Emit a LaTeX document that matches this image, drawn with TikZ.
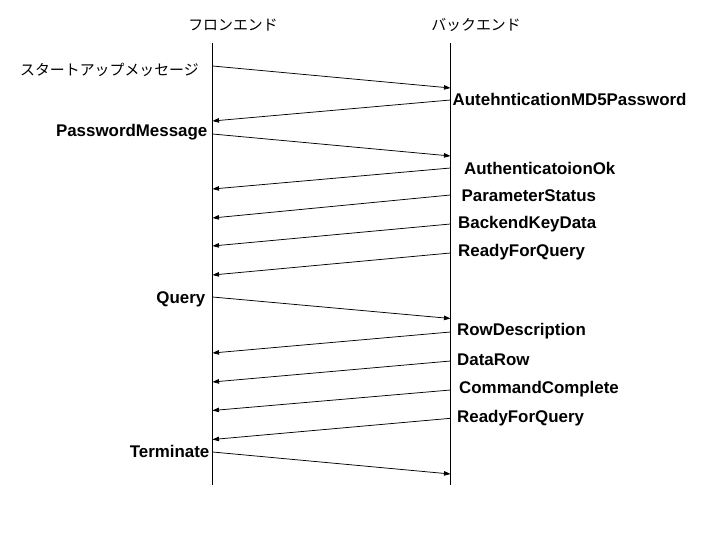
\documentclass[tikz,border=0pt]{standalone}
\usepackage{fontspec}
\setmainfont{Liberation Sans}
\newfontfamily\jpfont{Noto Sans CJK JP}
\usetikzlibrary{arrows.meta}
\begin{document}
\begin{tikzpicture}[x=1bp,y=-1bp,
  life/.style={line width=1bp},
  msg/.style={line width=0.75bp,-{Triangle[length=6.5bp,width=4.5bp]}},
  lbl/.style={inner sep=0pt,font=\fontsize{16.9bp}{18bp}\selectfont\bfseries},
  jp/.style={inner sep=0pt,font=\fontsize{14.9bp}{16bp}\selectfont\jpfont}]
\useasboundingbox (0,0) rectangle (720,540);
% lifelines
\coordinate (Ltop) at (212.5,43.5); \coordinate (Lbot) at (212.5,485);
\coordinate (Rtop) at (450.5,43.5); \coordinate (Rbot) at (450.5,485);
\draw[life] (Ltop) -- (Lbot);
\draw[life] (Rtop) -- (Rbot);
\node[jp] (front) at (233,25) {フロンエンド};
\node[jp] (back) at (476,25) {バックエンド};
% message end points
\coordinate (l1) at (212.5,66);    \coordinate (r1) at (450.5,88);
\coordinate (r2) at (450.5,100);   \coordinate (l2) at (212.5,121);
\coordinate (l3) at (212.5,134);   \coordinate (r3) at (450.5,156);
\coordinate (r4) at (450.5,168);   \coordinate (l4) at (212.5,189);
\coordinate (r5) at (450.5,195);   \coordinate (l5) at (212.5,218);
\coordinate (r6) at (450.5,224);   \coordinate (l6) at (212.5,246);
\coordinate (r7) at (450.5,253);   \coordinate (l7) at (212.5,275);
\coordinate (l8) at (212.5,297);   \coordinate (r8) at (450.5,318.5);
\coordinate (r9) at (450.5,332);   \coordinate (l9) at (212.5,353);
\coordinate (r10) at (450.5,361);  \coordinate (l10) at (212.5,382);
\coordinate (r11) at (450.5,390);  \coordinate (l11) at (212.5,410.5);
\coordinate (r12) at (450.5,418.3);\coordinate (l12) at (212.5,439.5);
\coordinate (l13) at (212.5,452);  \coordinate (r13) at (450.5,474);
% messages
\draw[msg] (l1) -- (r1);
\draw[msg] (r2) -- (l2);
\draw[msg] (l3) -- (r3);
\draw[msg] (r4) -- (l4);
\draw[msg] (r5) -- (l5);
\draw[msg] (r6) -- (l6);
\draw[msg] (r7) -- (l7);
\draw[msg] (l8) -- (r8);
\draw[msg] (r9) -- (l9);
\draw[msg] (r10) -- (l10);
\draw[msg] (r11) -- (l11);
\draw[msg] (r12) -- (l12);
\draw[msg] (l13) -- (r13);
% labels
\node[jp,anchor=west] (t1) at (20,70) {スタートアップメッセージ};
\node[lbl,anchor=base west] (t2) at (452.5,106) {AutehnticationMD5Password};
\node[lbl,anchor=base east] (t3) at (207.5,137) {PasswordMessage};
\node[lbl,anchor=base west] (t4) at (464,175) {AuthenticatoionOk};
\node[lbl,anchor=base west] (t5) at (461.5,202) {ParameterStatus};
\node[lbl,anchor=base west] (t6) at (458,229) {BackendKeyData};
\node[lbl,anchor=base west] (t7) at (458,257) {ReadyForQuery};
\node[lbl,anchor=base east] (t8) at (205.5,303) {Query};
\node[lbl,anchor=base west] (t9) at (457,335) {RowDescription};
\node[lbl,anchor=base west] (t10) at (457,365) {DataRow};
\node[lbl,anchor=base west] (t11) at (459,393) {CommandComplete};
\node[lbl,anchor=base west] (t12) at (457,422.5) {ReadyForQuery};
\node[lbl,anchor=base east] (t13) at (209.5,457) {Terminate};
\end{tikzpicture}
\end{document}
